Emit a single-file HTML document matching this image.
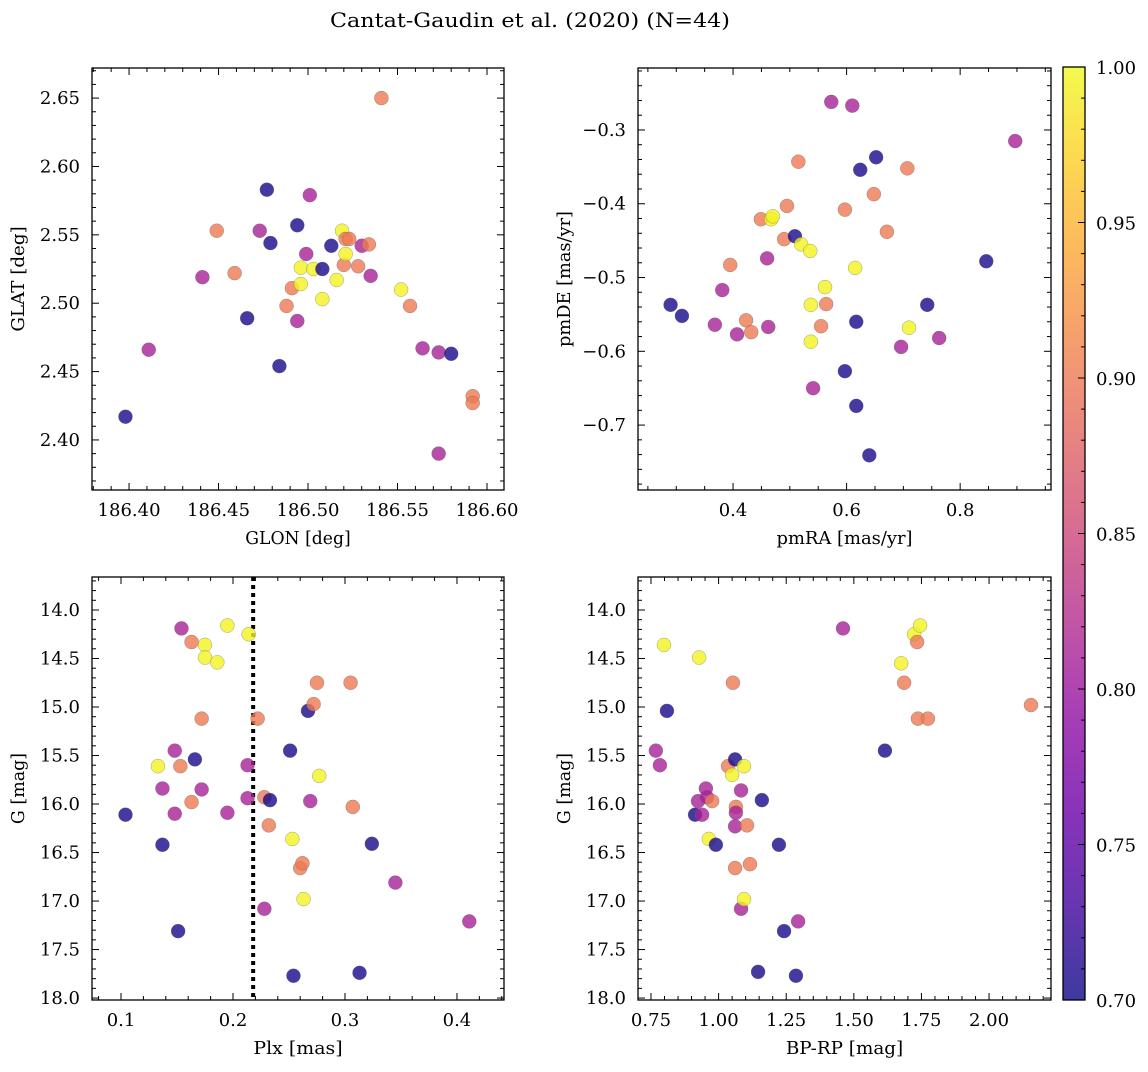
<!DOCTYPE html>
<html><head><meta charset="utf-8"><style>
body{margin:0;background:#fff}
svg text{font-family:"DejaVu Serif","Liberation Serif",serif;fill:#000}
</style></head><body>
<svg id="fig" width="1148" height="1067" xmlns="http://www.w3.org/2000/svg">
<defs><linearGradient id="plasma" x1="0" y1="1" x2="0" y2="0">
<stop offset="0" stop-color="#0d0887"/><stop offset="0.1" stop-color="#41049d"/><stop offset="0.2" stop-color="#6a00a8"/><stop offset="0.3" stop-color="#8f0da4"/><stop offset="0.4" stop-color="#b12a90"/><stop offset="0.5" stop-color="#cc4778"/><stop offset="0.6" stop-color="#e16462"/><stop offset="0.7" stop-color="#f2844b"/><stop offset="0.8" stop-color="#fca636"/><stop offset="0.9" stop-color="#fcce25"/><stop offset="1" stop-color="#f0f921"/>
</linearGradient></defs>
<text x="530" y="27" font-size="20" text-anchor="middle" textLength="400" lengthAdjust="spacingAndGlyphs">Cantat-Gaudin et al. (2020) (N=44)</text>
</svg>
<script>
// probability codes
const N=0.705,P=0.81,S=0.9,Y=0.995;
// Panel 1
const glon=[186.398,186.411,186.441,186.459,186.449,186.466,186.473,186.477,186.479,186.484,186.488,186.491,186.494,186.494,186.496,186.496,186.499,186.501,186.503,186.508,186.508,186.513,186.516,186.519,186.520,186.521,186.521,186.523,186.528,186.530,186.534,186.535,186.541,186.552,186.557,186.564,186.573,186.573,186.580,186.592,186.592];
const glat=[2.417,2.466,2.519,2.522,2.553,2.489,2.553,2.583,2.544,2.454,2.498,2.511,2.557,2.487,2.526,2.514,2.536,2.579,2.525,2.525,2.503,2.542,2.517,2.553,2.528,2.547,2.536,2.547,2.527,2.542,2.543,2.520,2.650,2.510,2.498,2.467,2.390,2.464,2.463,2.432,2.427];
const prob1=[N,P,P,S,S,N,P,N,N,N,S,S,N,P,Y,Y,P,P,Y,N,Y,N,Y,Y,S,S,Y,S,S,P,S,P,S,Y,S,P,P,P,N,S,S];
// Panel 2
const pmra=[0.29,0.31,0.381,0.368,0.395,0.407,0.423,0.432,0.449,0.460,0.462,0.467,0.470,0.490,0.495,0.509,0.515,0.520,0.536,0.537,0.537,0.541,0.555,0.564,0.562,0.573,0.597,0.597,0.610,0.617,0.615,0.617,0.624,0.640,0.648,0.652,0.671,0.707,0.696,0.710,0.742,0.763,0.846,0.897];
const pmde=[-0.537,-0.552,-0.517,-0.564,-0.483,-0.577,-0.558,-0.574,-0.421,-0.474,-0.567,-0.421,-0.417,-0.448,-0.403,-0.444,-0.343,-0.455,-0.464,-0.587,-0.537,-0.650,-0.566,-0.536,-0.513,-0.262,-0.627,-0.408,-0.267,-0.560,-0.487,-0.674,-0.354,-0.741,-0.387,-0.337,-0.438,-0.352,-0.594,-0.568,-0.537,-0.582,-0.478,-0.315];
const prob2=[N,N,P,P,S,P,S,S,S,P,P,Y,Y,S,S,N,S,Y,Y,Y,Y,P,S,S,Y,P,N,S,P,N,Y,N,N,N,S,N,S,S,P,Y,N,P,N,P];
// Panel 3
const plx=[0.104,0.133,0.137,0.137,0.148,0.148,0.151,0.153,0.154,0.163,0.163,0.166,0.172,0.172,0.175,0.175,0.186,0.195,0.195,0.213,0.213,0.214,0.222,0.228,0.232,0.233,0.228,0.251,0.253,0.254,0.260,0.262,0.263,0.267,0.269,0.272,0.275,0.277,0.305,0.307,0.313,0.324,0.345,0.411];
const g3=[16.11,15.61,15.84,16.42,15.45,16.10,17.31,15.61,14.19,15.98,14.33,15.54,15.85,15.12,14.36,14.49,14.54,16.09,14.16,15.94,15.60,14.25,15.12,15.93,16.22,15.96,17.08,15.45,16.36,17.77,16.66,16.61,16.98,15.04,15.97,14.97,14.75,15.71,14.75,16.03,17.74,16.41,16.81,17.21];
const prob3=[N,Y,P,N,P,P,N,S,P,S,S,N,P,S,Y,Y,Y,P,Y,P,P,Y,S,S,S,N,P,N,Y,N,S,S,Y,N,P,S,S,Y,S,S,N,N,P,P];
const cutPlx=0.218;
// Panel 4
const bprp=[0.768,0.783,0.798,0.809,0.913,0.924,0.928,0.939,0.953,0.957,0.976,0.964,0.990,1.035,1.053,1.061,1.050,1.064,1.064,1.061,1.061,1.094,1.083,1.083,1.094,1.105,1.116,1.146,1.160,1.223,1.242,1.286,1.294,1.460,1.615,1.675,1.686,1.723,1.734,1.745,1.737,1.774,2.155];
const g4=[15.45,15.60,14.36,15.04,16.11,15.97,14.49,16.11,15.84,15.93,15.97,16.36,16.42,15.61,14.75,15.54,15.70,16.03,16.09,16.66,16.23,15.61,15.86,17.08,16.98,16.22,16.62,17.73,15.96,16.42,17.31,17.77,17.21,14.19,15.45,14.55,14.75,14.25,14.33,14.16,15.12,15.12,14.98];
const prob4=[P,P,Y,N,N,P,Y,P,P,P,S,Y,N,S,S,N,Y,S,P,S,P,Y,P,P,Y,S,S,N,N,N,N,N,P,P,N,Y,S,Y,S,Y,S,S,S];
const cbTicks=["0.70","0.75","0.80","0.85","0.90","0.95","1.00"];

const NS="http://www.w3.org/2000/svg";
const svg=document.getElementById('fig');
function mk(t,a,p){const e=document.createElementNS(NS,t);for(const k in a)e.setAttribute(k,a[k]);(p||svg).appendChild(e);return e;}
// approximate DejaVu Serif advance widths (em)
function tw(s,size){let w=0;for(const ch of s){let c=0.6;
  if(/[0-9]/.test(ch))c=0.636;else if(ch=='.'||ch==' ')c=0.318;else if(ch=='\u2212')c=0.838;
  else if(ch=='['||ch==']')c=0.39;else if(ch=='/')c=0.337;else if(ch=='-')c=0.338;
  else if(/[A-Z]/.test(ch))c=0.74;else if(/[mw]/.test(ch))c=0.92;else if(/[ijlrt]/.test(ch))c=0.4;
  w+=c;}return w*size;}
function txt(s,a,p,size){a['font-size']=size;a.textLength=tw(s,size).toFixed(1);a.lengthAdjust='spacingAndGlyphs';const t=mk('text',a,p);t.textContent=s;return t;}
const stops=[[13,8,135],[65,4,157],[106,0,168],[143,13,164],[177,42,144],[204,71,120],[225,100,98],[242,132,75],[252,166,54],[252,206,37],[240,249,33]];
function plasma(v){let t=(v-0.7)/0.3;t=Math.max(0,Math.min(1,t));const f=t*10,i=Math.min(9,Math.floor(f)),r=f-i;const a=stops[i],b=stops[i+1];return 'rgb('+a.map((c,k)=>Math.round(c+(b[k]-c)*r)).join(',')+')';}
function fmt(v,d){return (v<0?'\u2212':'')+Math.abs(v).toFixed(d);}
function panel(o){
  const g=mk('g',{});
  
  
  const sx=v=>o.x0+(v-o.xr[0])/(o.xr[1]-o.xr[0])*(o.x1-o.x0);
  const sy=o.inv?(v=>o.y0+(v-o.yr[0])/(o.yr[1]-o.yr[0])*(o.y1-o.y0)):(v=>o.y1-(v-o.yr[0])/(o.yr[1]-o.yr[0])*(o.y1-o.y0));
  for(let v=Math.ceil(o.xr[0]/o.xmn-1e-6)*o.xmn;v<=o.xr[1]+1e-9;v+=o.xmn){const x=sx(v);
    const maj=Math.abs(v/o.xmj-Math.round(v/o.xmj))<1e-4;const L=maj?7:4;
    mk('line',{x1:x,x2:x,y1:o.y1,y2:o.y1-L,stroke:'#000','stroke-width':1},g);
    mk('line',{x1:x,x2:x,y1:o.y0,y2:o.y0+L,stroke:'#000','stroke-width':1},g);
    if(maj){const t=txt(fmt(v,o.xd),{x:x,y:o.y1+26,'text-anchor':'middle'},g,18);
      
      }}
  for(let v=Math.ceil(o.yr[0]/o.ymn-1e-6)*o.ymn;v<=o.yr[1]+1e-9;v+=o.ymn){const y=sy(v);
    const maj=Math.abs(v/o.ymj-Math.round(v/o.ymj))<1e-4;const L=maj?7:4;
    mk('line',{x1:o.x0,x2:o.x0+L,y1:y,y2:y,stroke:'#000','stroke-width':1},g);
    mk('line',{x1:o.x1,x2:o.x1-L,y1:y,y2:y,stroke:'#000','stroke-width':1},g);
    if(maj){const t=txt(fmt(v,o.yd),{x:o.x0-12,y:y+6,'text-anchor':'end'},g,18);
      
      }}
  if(o.cut!==undefined){const l=mk('line',{x1:sx(o.cut),x2:sx(o.cut),y1:o.y0,y2:o.y1,stroke:'#000','stroke-width':4,'stroke-dasharray':'4 4'},g);
    
    }
  o.xs.forEach((v,i)=>{const c=mk('circle',{cx:sx(v),cy:sy(o.ys[i]),r:7,fill:plasma(o.cs[i]),'fill-opacity':0.8,stroke:'#666','stroke-opacity':0.6,'stroke-width':0.5},g);
    
    });
  const f=mk('rect',{x:o.x0,y:o.y0,width:o.x1-o.x0,height:o.y1-o.y0,fill:'none',stroke:'#000','stroke-width':1.3},g);
  
  
  const xl=txt(o.xl,{x:(o.x0+o.x1)/2,y:o.y1+54,'text-anchor':'middle'},g,18);
  
  
  const yx=o.x0-68,yc=(o.y0+o.y1)/2;
  const yl=txt(o.yl,{x:yx,y:yc,'text-anchor':'middle',transform:'rotate(-90 '+yx+' '+yc+')'},g,18);
  
  
}
panel({name:'glon-glat-panel',x0:92,x1:504,y0:68,y1:490,xr:[186.3793,186.6095],yr:[2.3634,2.672],xmj:0.05,xmn:0.01,ymj:0.05,ymn:0.01,xd:2,yd:2,xs:glon,ys:glat,cs:prob1,xl:'GLON [deg]',yl:'GLAT [deg]'});
panel({name:'proper-motion-panel',x0:638,x1:1051,y0:68,y1:490,xr:[0.2326,0.96],yr:[-0.788,-0.216],xmj:0.2,xmn:0.05,ymj:0.1,ymn:0.02,xd:1,yd:1,xs:pmra,ys:pmde,cs:prob2,xl:'pmRA [mas/yr]',yl:'pmDE [mas/yr]'});
panel({name:'parallax-mag-panel',x0:92,x1:504,y0:577,y1:1000,inv:true,xr:[0.0741,0.442],yr:[13.66,18.02],xmj:0.1,xmn:0.02,ymj:0.5,ymn:0.1,xd:1,yd:1,xs:plx,ys:g3,cs:prob3,cut:cutPlx,xl:'Plx [mas]',yl:'G [mag]'});
panel({name:'cmd-panel',x0:638,x1:1051,y0:577,y1:1000,inv:true,xr:[0.702,2.229],yr:[13.66,18.02],xmj:0.25,xmn:0.05,ymj:0.5,ymn:0.1,xd:2,yd:1,xs:bprp,ys:g4,cs:prob4,xl:'BP-RP [mag]',yl:'G [mag]'});
// colorbar
const cb=mk('g',{});


const cx0=1063,cx1=1085,cy0=67,cy1=1000;
mk('rect',{x:cx0,y:cy0,width:cx1-cx0,height:cy1-cy0,fill:'url(#plasma)','fill-opacity':0.8},cb);
for(let k=0;k<=30;k++){const y=cy1-k/30*(cy1-cy0);const maj=k%5==0;mk('line',{x1:cx1,x2:cx1-(maj?7:4),y1:y,y2:y,stroke:'#000'},cb);}
cbTicks.forEach((s,i)=>{const y=cy1-(parseFloat(s)-0.7)/0.3*(cy1-cy0);const t=txt(s,{x:1096,y:y+7},cb,18);
  
  });
mk('rect',{x:cx0,y:cy0,width:cx1-cx0,height:cy1-cy0,fill:'none',stroke:'#000','stroke-width':1.3},cb);
</script>
</body></html>
